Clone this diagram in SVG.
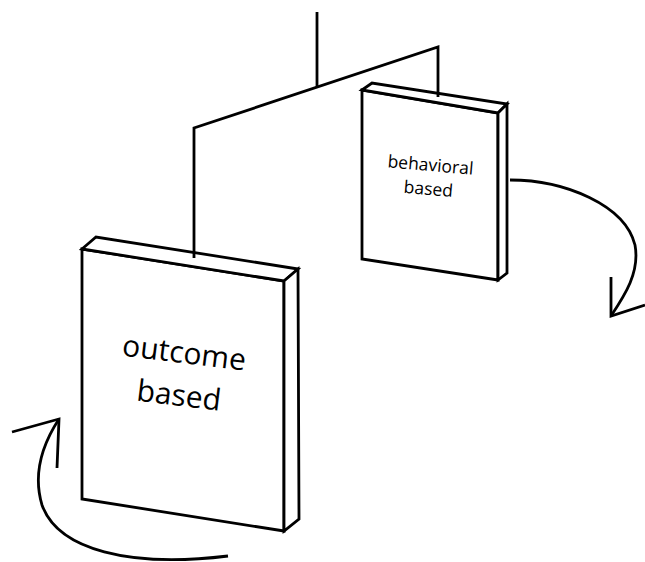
<svg xmlns="http://www.w3.org/2000/svg" width="645" height="562" viewBox="0 0 645 562">
<style>
.ln{fill:none;stroke:#000;stroke-width:2.8;stroke-linejoin:miter;stroke-linecap:butt}
.face{fill:#fff;stroke:#000;stroke-width:2.8;stroke-linejoin:miter}
.lbl{font-family:"Open Sans","Liberation Sans",sans-serif;fill:#000;text-anchor:middle}
</style>
<rect width="645" height="562" fill="#fff"/>
<g id="node-behavioral">
<polygon class="face" points="362,90 498,113 498,280 362,259"/>
<polygon class="face" points="362,90 372,83 507,104 498,113"/>
<polygon class="face" points="498,113 507,104 507,273 498,280"/>
<text class="lbl" font-size="17.5" transform="translate(430,171) rotate(5)"><tspan x="0" y="0">behavioral</tspan><tspan x="0" y="24">based</tspan></text>
</g>
<g id="node-outcome">
<polygon class="face" points="82,249 284,281 284,531 82,499"/>
<polygon class="face" points="82,249 96,237 298,269 284,281"/>
<polygon class="face" points="284,281 298,269 299,519 284,531"/>
<text class="lbl" font-size="30" transform="translate(183,363) rotate(7)"><tspan x="0" y="0">outcome</tspan><tspan x="0" y="43">based</tspan></text>
</g>
<g id="connectors">
<path class="ln" d="M317,12 V87"/>
<path class="ln" d="M194,258 V128 L438,47 V97"/>
<path class="ln" d="M510,180 C565,180 625,205 635,245 C640,272 625,295 611,316"/>
<path class="ln" d="M611,277 V316 L645,305"/>
<path class="ln" d="M59,419 C42,445 33,475 42,505 C58,550 130,568 228,556"/>
<path class="ln" d="M12,432 L59,419 L57,468"/>
</g>
</svg>
